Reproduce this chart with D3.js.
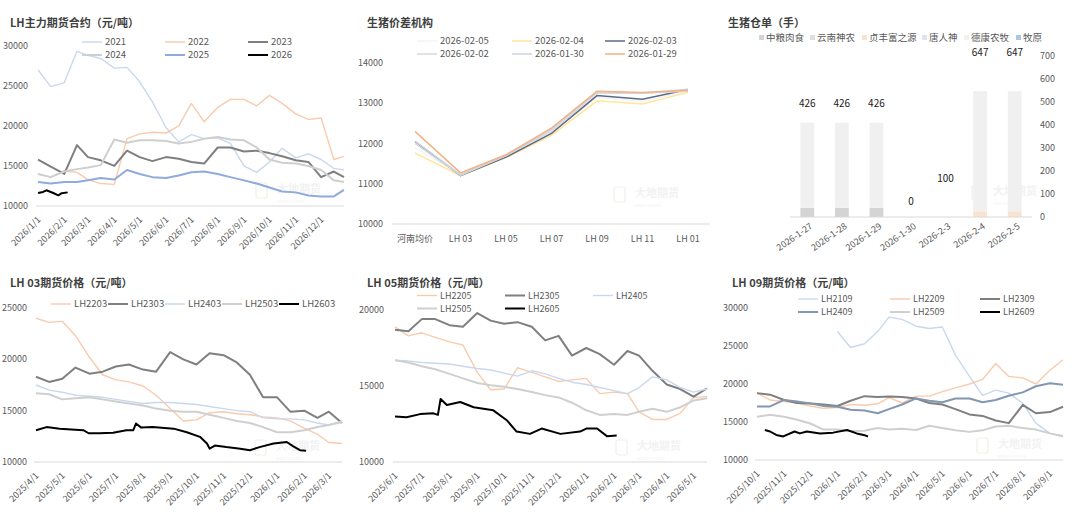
<!DOCTYPE html>
<html>
<head>
<meta charset="utf-8">
<script src="https://cdn.jsdelivr.net/npm/d3@7"></script>
<style>
  body { margin: 0; background: #fff; }
  text { font-family: "Noto Sans CJK SC", "Noto Sans", sans-serif; }
</style>
</head>
<body>
<script>
// ---------- data ----------
// LH main contract by year (mapped on one calendar year), semi-monthly + Dec 28
const y2021 = [27000,24900,25400,29300,28800,28400,27200,27300,25500,23000,19800,18000,18900,18400,18500,17800,15000,14200,15500,17200,16000,16500,15800,14700,14500];
const y2022 = [14000,13600,14400,14200,13300,12800,12700,18400,19000,19200,19100,20000,22800,20500,22300,23300,23300,22500,23800,22800,21500,20800,21000,15800,16200];
const y2023 = [15800,14900,14000,17600,16100,15700,15000,16900,16100,15600,16100,15900,15500,15300,17300,17300,16800,16900,16600,16200,15700,15500,13600,14300,13600];
const y2024 = [14000,13600,14300,14600,14800,15100,18300,17900,18200,18200,18100,17800,18000,18400,18600,18300,18200,17300,15800,15400,15300,15000,14500,13200,13000];
const y2025 = [13000,12800,13000,13000,13200,13500,13300,14500,14000,13600,13500,13800,14200,14300,14000,13600,13200,12800,12300,11800,11700,11300,11200,11200,12000];
const y2026 = [["2026-01-01",11620],["2026-01-07",11750],["2026-01-11",11960],["2026-01-19",11620],["2026-01-25",11330],["2026-01-29",11600],["2026-02-05",11700]];

// spread structure
const spreadCats = ["河南均价","LH 03","LH 05","LH 07","LH 09","LH 11","LH 01"];
const s0205 = [11900,11230,11680,12280,13150,13050,13300];
const s0204 = [11760,11200,11650,12200,13060,12980,13270];
const s0203 = [12050,11200,11660,12250,13190,13100,13340];
const s0202 = [12000,11210,11700,12300,13250,13250,13300];
const s0130 = [12060,11230,11700,12350,13290,13250,13350];
const s0129 = [12300,11270,11720,12380,13300,13270,13320];

// warehouse receipts
const receiptDates = ["2026-1-27","2026-1-28","2026-1-29","2026-1-30","2026-2-3","2026-2-4","2026-2-5"];
const rZhongliang = [40,40,40,0,0,0,0];
const rYunnan = [0,0,0,0,0,0,0];
const rZhenfeng = [0,0,0,0,0,25,25];
const rTangren = [0,0,0,0,0,0,0];
const rDekang = [370,370,370,0,0,522,522];
const rMuyuan = [0,0,0,0,0,0,0];
const receiptTotals = [426,426,426,0,100,647,647];

// LH 03 contracts, semi-monthly from 2025-04-01
const lh2203 = [24000,23600,23700,22300,20200,18500,18000,17800,17400,16500,15200,14000,14100,14800,14900,14700,14600,14400,14300,14000,13300,12700,11900,11800];
const lh2303 = [18300,17800,18100,19200,18600,18800,19300,19500,19000,18800,20700,20000,19500,20600,20400,19700,18500,16300,16300,14900,15000,14300,14900,13800];
const lh2403 = [17500,17000,16800,16500,16400,16300,16100,15900,15700,15800,15800,15700,15600,15400,15200,15000,14900,14300,14200,14200,14100,13800,13600,14000];
const lh2503 = [16700,16600,16100,16200,16300,16100,15900,15700,15500,15200,15000,14900,14900,14600,14300,14000,13800,13400,12900,12900,13100,13400,13600,13900];
const lh2603 = [["2025-04-01",13100],["2025-04-13",13400],["2025-04-28",13250],["2025-05-25",13100],["2025-05-31",12800],["2025-06-12",12800],["2025-06-28",12850],["2025-07-13",13100],["2025-07-21",13100],["2025-07-24",13750],["2025-07-30",13350],["2025-08-12",13400],["2025-09-05",13250],["2025-09-20",12900],["2025-10-05",12450],["2025-10-13",11800],["2025-10-16",11300],["2025-10-22",11600],["2025-11-04",11450],["2025-11-20",11300],["2025-12-01",11150],["2025-12-12",11450],["2025-12-28",11800],["2026-01-12",11950],["2026-01-19",11550],["2026-01-27",11150],["2026-02-03",11100]];

// LH 05 contracts, semi-monthly from 2025-06-01
const lh2205 = [18900,18300,18500,18200,17900,17700,15900,14750,14800,16200,15900,15600,15300,15400,15500,14500,14600,14500,13300,12800,12800,13200,14250,14300];
const lh2305 = [18700,18600,19400,19400,19000,18900,19800,19300,19100,19200,18900,18000,18300,17000,17500,17100,16400,17300,17000,16000,15100,14800,14300,14850];
const lh2405 = [16700,16650,16550,16500,16450,16300,16150,16050,15850,15650,16000,15800,15500,15250,15100,14900,14700,14500,14900,15600,15400,14900,14600,14800];
const lh2505 = [16700,16550,16300,16100,15800,15500,15200,15050,14950,14800,14600,14400,14250,13900,13400,13100,13150,13100,13300,13500,13300,13600,14050,14200];
const lh2605 = [["2025-06-01",13000],["2025-06-14",12950],["2025-06-29",13150],["2025-07-14",13200],["2025-07-19",13100],["2025-07-22",14150],["2025-07-29",13750],["2025-08-13",13950],["2025-08-28",13600],["2025-09-19",13400],["2025-10-04",12750],["2025-10-15",12000],["2025-10-30",11850],["2025-11-12",12200],["2025-12-03",11850],["2025-12-25",12000],["2026-01-01",12200],["2026-01-13",12200],["2026-01-24",11700],["2026-02-04",11750]];

// LH 09 contracts, semi-monthly from 2025-10-01
const lh2109 = [null,null,null,null,null,null,26900,24800,25300,26900,28800,28500,27600,27300,27500,23800,21000,18500,19200,18800,17450,14850,13500,13200];
const lh2209 = [18800,17900,17700,17500,17100,16800,16900,17300,17200,17400,18200,17500,18400,18400,19000,19500,20000,20600,22700,21000,20800,20000,21800,23200];
const lh2309 = [18800,18600,17900,17500,17450,17300,17100,17800,18400,18300,18350,18300,18100,17500,17300,16700,16000,15800,15200,14850,17250,16150,16300,17000];
const lh2409 = [17050,17050,17900,17700,17450,17100,17000,16600,16500,16150,16700,17300,18100,17800,17600,18100,18100,17600,17900,18450,18900,19700,20100,19900];
const lh2509 = [15700,15950,15700,15300,14800,14000,14000,13800,13850,14200,14000,14100,13950,14500,14200,13900,13700,13900,14400,14500,14200,14000,13500,13100];
const lh2609 = [["2025-10-10",13950],["2025-10-16",13750],["2025-10-23",13300],["2025-10-31",13100],["2025-11-13",13750],["2025-11-19",13500],["2025-11-27",13750],["2025-12-12",13500],["2025-12-27",13600],["2026-01-12",13950],["2026-01-23",13500],["2026-01-31",13300],["2026-02-05",13100]];

// ---------- setup ----------
const svg = d3.select("body").append("svg")
  .attr("width", 1080).attr("height", 517)
  .style("background", "#fff");

const parse = d3.timeParse("%Y-%m-%d");
const fmtTick = d3.timeFormat("%Y/%-m/%-d");
const axisColor = "#595959";
const gridColor = "#d9d9d9";

// 1st and 16th of each month
function semiMonthly(start, n) {
  const out = [];
  let d = parse(start);
  for (let i = 0; i < n; i++) {
    out.push(d);
    d = d.getDate() === 1
      ? new Date(d.getFullYear(), d.getMonth(), 16)
      : new Date(d.getFullYear(), d.getMonth() + 1, 1);
  }
  return out;
}

function title(g, txt, x, y) {
  g.append("text").attr("x", x).attr("y", y).attr("dy", "0.35em")
    .attr("font-size", 11).attr("font-weight", "bold").attr("fill", "#3f3f3f")
    .text(txt);
}

// faint company watermark
function watermark(g, x, y) {
  const w = g.append("g").attr("transform", `translate(${x},${y})`);
  w.append("rect").attr("width", 11).attr("height", 15).attr("rx", 2)
    .attr("fill", "none").attr("stroke", "#f2efe6").attr("stroke-width", 1.2);
  w.append("text").attr("x", 21).attr("y", 10).attr("font-size", 11)
    .attr("font-weight", "bold").attr("fill", "#f2f2f2").text("大地期货");
  w.append("text").attr("x", 21).attr("y", 20).attr("font-size", 4)
    .attr("fill", "#f2f2f2").text("DADI FUTURES");
}

function lineLegend(g, items, lg) {
  items.forEach((s, i) => {
    const cx = lg.cols[i % lg.perRow];
    const cy = lg.rows[Math.floor(i / lg.perRow)];
    g.append("line").attr("x1", cx).attr("x2", cx + 20).attr("y1", cy).attr("y2", cy)
      .attr("stroke", s.color).attr("stroke-width", s.w);
    g.append("text").attr("x", cx + 23).attr("y", cy).attr("dy", "0.35em")
      .attr("font-size", lg.size || 9.5).attr("fill", axisColor).text(s.name);
  });
}

// time series panel
function timePanel(p) {
  const g = svg.append("g");
  const x = d3.scaleTime().domain(p.xDomain.map(parse)).range(p.xRange);
  const y = d3.scaleLinear().domain(p.yDomain).range(p.yRange);
  title(g, p.title, p.titlePos[0], p.titlePos[1]);
  watermark(g, p.mark[0], p.mark[1]);

  g.selectAll(".yl")
    .data(d3.range(p.yDomain[0], p.yDomain[1] + 1, p.yStep))
    .join("text")
    .attr("x", p.yLabelX).attr("y", d => y(d)).attr("dy", "0.35em")
    .attr("text-anchor", "end").attr("font-size", 9).attr("fill", axisColor)
    .text(d => d);

  g.append("line")
    .attr("x1", p.xRange[0] - 2).attr("x2", p.xRange[1])
    .attr("y1", y(p.yDomain[0])).attr("y2", y(p.yDomain[0]))
    .attr("stroke", gridColor).attr("stroke-width", 1);

  const months = d3.timeMonth.range(parse(p.ticks[0]), d3.timeDay.offset(parse(p.ticks[1]), 1));
  g.selectAll(".xl").data(months).join("text")
    .attr("transform", d => `translate(${x(d) + 1},${y(p.yDomain[0]) + 12}) rotate(-45)`)
    .attr("text-anchor", "end").attr("dy", "0.35em")
    .attr("font-size", 9).attr("fill", axisColor)
    .text(fmtTick);

  const line = d3.line().defined(d => d[1] != null)
    .x(d => x(d[0])).y(d => y(d[1]));
  p.series.forEach(s => {
    const pts = s.pairs
      ? s.pairs.map(([d, v]) => [parse(d), v])
      : s.values.map((v, i) => [p.dates[i], v]);
    g.append("path").datum(pts).attr("d", line)
      .attr("fill", "none").attr("stroke", s.color).attr("stroke-width", s.w)
      .attr("stroke-linejoin", "round");
  });

  lineLegend(g, p.series, p.legend);
}

const cBlue = "#c9d8ee", cOrange = "#f8cbad", cDark = "#7f7f7f", cGray = "#cfcfcf";

// ---------- panel 1: LH main contract ----------
timePanel({
  title: "LH主力期货合约（元/吨）", titlePos: [10, 23], mark: [256, 183],
  xDomain: ["2026-01-01", "2026-12-28"], xRange: [38, 344],
  yDomain: [10000, 30000], yRange: [206, 45.7], yStep: 5000, yLabelX: 28,
  ticks: ["2026-01-01", "2026-12-01"],
  dates: semiMonthly("2026-01-01", 24).concat([parse("2026-12-28")]),
  series: [
    { name: "2021", color: cBlue, w: 1.4, values: y2021 },
    { name: "2022", color: cOrange, w: 1.4, values: y2022 },
    { name: "2023", color: cDark, w: 2, values: y2023 },
    { name: "2024", color: cGray, w: 2, values: y2024 },
    { name: "2025", color: "#8faadc", w: 2, values: y2025 },
    { name: "2026", color: "#000", w: 2, pairs: y2026 }
  ],
  legend: { cols: [82, 165, 248], rows: [42, 55], perRow: 3 }
});

// ---------- panel 2: spread structure ----------
(function () {
  const g = svg.append("g");
  const x = d3.scalePoint().domain(spreadCats).range([415, 688]);
  const y = d3.scaleLinear().domain([10000, 14000]).range([224, 63]);
  title(g, "生猪价差机构", 367, 23);
  watermark(g, 614, 187);

  g.selectAll(".yl").data(d3.range(10000, 14001, 1000)).join("text")
    .attr("x", 383).attr("y", d => y(d)).attr("dy", "0.35em")
    .attr("text-anchor", "end").attr("font-size", 9).attr("fill", axisColor)
    .text(d => d);
  g.append("line").attr("x1", 392).attr("x2", 710).attr("y1", y(10000)).attr("y2", y(10000))
    .attr("stroke", gridColor);
  g.selectAll(".xl").data(spreadCats).join("text")
    .attr("x", d => x(d)).attr("y", 239).attr("dy", "0.35em")
    .attr("text-anchor", "middle").attr("font-size", 9).attr("fill", axisColor)
    .text(d => d);

  const series = [
    { name: "2026-02-05", color: "#f4f4f4", w: 1.5, values: s0205 },
    { name: "2026-02-04", color: "#ffe699", w: 1.5, values: s0204 },
    { name: "2026-02-03", color: "#5b6b88", w: 1.5, values: s0203 },
    { name: "2026-02-02", color: "#d9d9d9", w: 1.5, values: s0202 },
    { name: "2026-01-30", color: "#cdd5e3", w: 1.5, values: s0130 },
    { name: "2026-01-29", color: "#f4b183", w: 1.5, values: s0129 }
  ];
  const line = d3.line().x((d, i) => x(spreadCats[i])).y(d => y(d));
  series.forEach(s => {
    g.append("path").datum(s.values).attr("d", line)
      .attr("fill", "none").attr("stroke", s.color).attr("stroke-width", s.w);
  });
  lineLegend(g, series, { cols: [417, 512, 605], rows: [41, 54], perRow: 3 });
})();

// ---------- panel 3: warehouse receipts ----------
(function () {
  const g = svg.append("g");
  const names = ["中粮肉食", "云南神农", "贞丰富之源", "唐人神", "德康农牧", "牧原"];
  const colors = ["#d4d4d4", "#dedede", "#fbe3d2", "#dde4ef", "#f0f0f0", "#a9c7e8"];
  const cols = [rZhongliang, rYunnan, rZhenfeng, rTangren, rDekang, rMuyuan];
  const rows = receiptDates.map((d, i) => {
    const r = { date: d };
    names.forEach((n, j) => r[n] = cols[j][i]);
    return r;
  });
  const stacked = d3.stack().keys(names)(rows);

  const x = d3.scaleBand().domain(receiptDates).range([790, 1032]).paddingInner(0.6).paddingOuter(0.3);
  const y = d3.scaleLinear().domain([0, 700]).range([217, 56]);
  title(g, "生猪仓单（手）", 728, 23);
  watermark(g, 972, 185);

  g.selectAll(".yl").data(d3.range(0, 701, 100)).join("text")
    .attr("x", 1040).attr("y", d => y(d)).attr("dy", "0.35em")
    .attr("font-size", 9).attr("fill", axisColor).text(d => d);

  stacked.forEach((layer, j) => {
    g.selectAll(null).data(layer).join("rect")
      .attr("x", d => x(d.data.date)).attr("width", x.bandwidth())
      .attr("y", d => y(d[1])).attr("height", d => y(d[0]) - y(d[1]))
      .attr("fill", colors[j]);
  });

  g.append("line").attr("x1", 790).attr("x2", 1032).attr("y1", y(0)).attr("y2", y(0))
    .attr("stroke", gridColor);

  g.selectAll(".tl").data(receiptTotals).join("text")
    .attr("x", (d, i) => x(receiptDates[i]) + x.bandwidth() / 2)
    .attr("y", d => y(d) - 16).attr("dy", "0.35em")
    .attr("text-anchor", "middle").attr("font-size", 10).attr("fill", "#1a1a1a")
    .text(d => d);

  g.selectAll(".xl").data(receiptDates).join("text")
    .attr("transform", d => `translate(${x(d) + x.bandwidth() / 2 + 4},${y(0) + 8}) rotate(-35)`)
    .attr("text-anchor", "end").attr("dy", "0.35em")
    .attr("font-size", 9).attr("fill", axisColor).text(d => d);

  // legend with square markers
  const lx = [759, 810, 862, 922, 964, 1016];
  names.forEach((n, j) => {
    g.append("rect").attr("x", lx[j]).attr("y", 35).attr("width", 5).attr("height", 5)
      .attr("fill", colors[j]);
    g.append("text").attr("x", lx[j] + 7).attr("y", 38).attr("dy", "0.35em")
      .attr("font-size", 9.5).attr("fill", axisColor).text(n);
  });
})();

// ---------- panel 4: LH 03 ----------
timePanel({
  title: "LH 03期货价格（元/吨）", titlePos: [10, 283], mark: [255, 440],
  xDomain: ["2025-04-01", "2026-03-16"], xRange: [36, 342],
  yDomain: [10000, 25000], yRange: [462, 308], yStep: 5000, yLabelX: 27,
  ticks: ["2025-04-01", "2026-03-01"],
  dates: semiMonthly("2025-04-01", 24),
  series: [
    { name: "LH2203", color: cOrange, w: 1.4, values: lh2203 },
    { name: "LH2303", color: cDark, w: 2, values: lh2303 },
    { name: "LH2403", color: cBlue, w: 1.4, values: lh2403 },
    { name: "LH2503", color: cGray, w: 2, values: lh2503 },
    { name: "LH2603", color: "#000", w: 2, pairs: lh2603 }
  ],
  legend: { cols: [51, 108, 165, 222, 279], rows: [304], perRow: 5 }
});

// ---------- panel 5: LH 05 ----------
timePanel({
  title: "LH 05期货价格（元/吨）", titlePos: [367, 283], mark: [616, 440],
  xDomain: ["2025-06-01", "2026-05-16"], xRange: [395, 707],
  yDomain: [10000, 20000], yRange: [462, 310], yStep: 5000, yLabelX: 384,
  ticks: ["2025-06-01", "2026-05-01"],
  dates: semiMonthly("2025-06-01", 24),
  series: [
    { name: "LH2205", color: cOrange, w: 1.4, values: lh2205 },
    { name: "LH2305", color: cDark, w: 2, values: lh2305 },
    { name: "LH2405", color: cBlue, w: 1.4, values: lh2405 },
    { name: "LH2505", color: cGray, w: 2, values: lh2505 },
    { name: "LH2605", color: "#000", w: 2, pairs: lh2605 }
  ],
  legend: { cols: [417, 505, 593], rows: [295.5, 308.5], perRow: 3, size: 9 }
});

// ---------- panel 6: LH 09 ----------
timePanel({
  title: "LH 09期货价格（元/吨）", titlePos: [732, 283], mark: [977, 438],
  xDomain: ["2025-10-01", "2026-09-16"], xRange: [757, 1063],
  yDomain: [10000, 30000], yRange: [460, 308], yStep: 5000, yLabelX: 748,
  ticks: ["2025-10-01", "2026-09-01"],
  dates: semiMonthly("2025-10-01", 24),
  series: [
    { name: "LH2109", color: cBlue, w: 1.4, values: lh2109 },
    { name: "LH2209", color: cOrange, w: 1.4, values: lh2209 },
    { name: "LH2309", color: cDark, w: 2, values: lh2309 },
    { name: "LH2409", color: "#8497b0", w: 2, values: lh2409 },
    { name: "LH2509", color: cGray, w: 2, values: lh2509 },
    { name: "LH2609", color: "#000", w: 2, pairs: lh2609 }
  ],
  legend: { cols: [798, 890, 980], rows: [299, 312], perRow: 3, size: 9 }
});
</script>
</body>
</html>
